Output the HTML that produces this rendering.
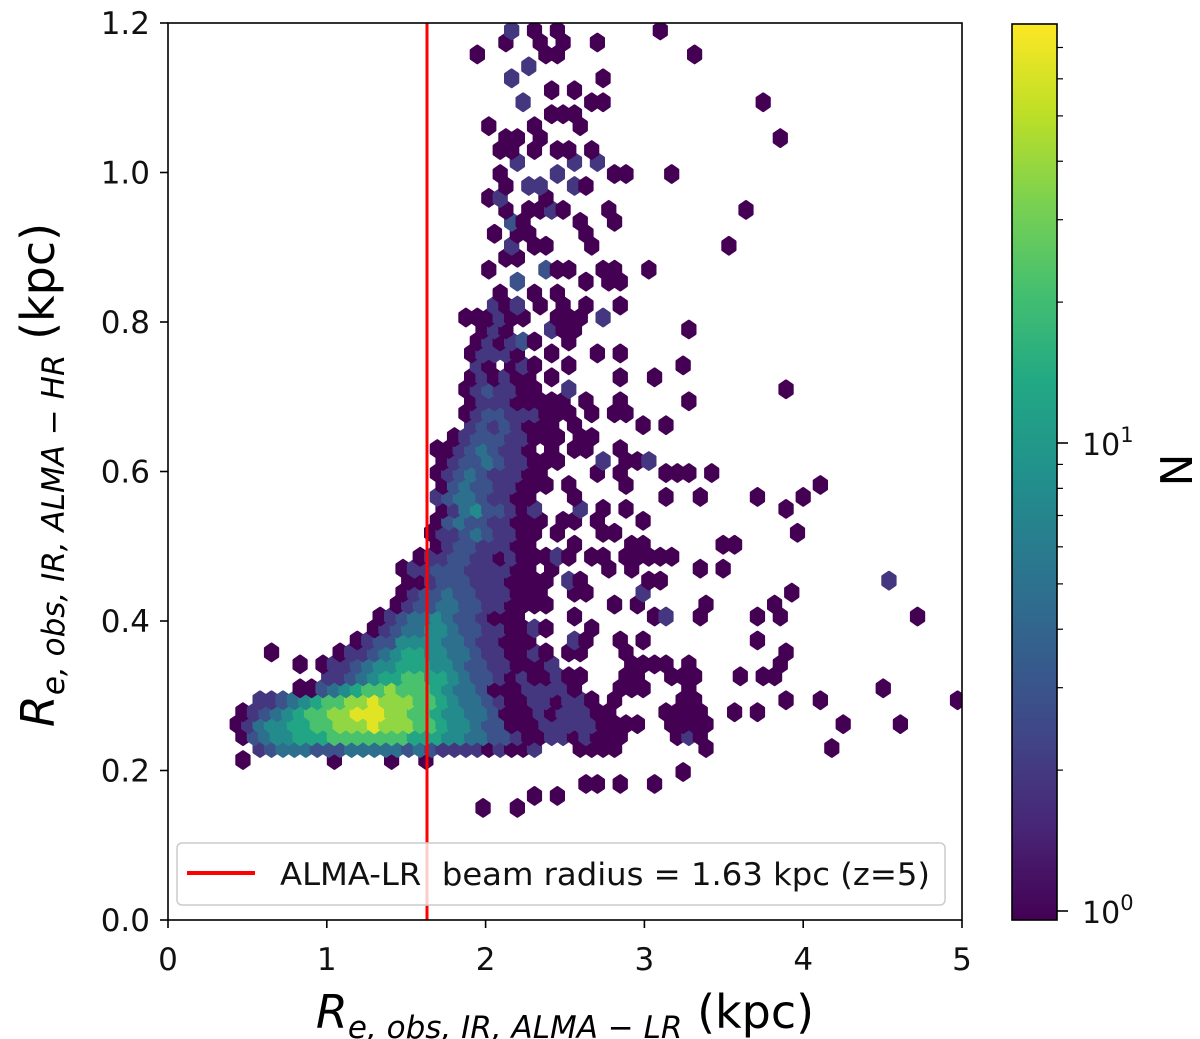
<!DOCTYPE html>
<html><head><meta charset="utf-8"><style>
html,body{margin:0;padding:0;background:#fff;}
svg{display:block;font-family:"DejaVu Sans","Liberation Sans",sans-serif;}
</style></head><body>
<svg id="chart" width="1200" height="1039" viewBox="0 0 1200 1039" xmlns="http://www.w3.org/2000/svg">
<defs>
<linearGradient id="vir" x1="0" y1="1" x2="0" y2="0">
<stop offset="0" stop-color="#440154"/><stop offset="0.1" stop-color="#482475"/><stop offset="0.2" stop-color="#414487"/><stop offset="0.3" stop-color="#355f8d"/><stop offset="0.4" stop-color="#2a788e"/><stop offset="0.5" stop-color="#21918c"/><stop offset="0.6" stop-color="#22a884"/><stop offset="0.7" stop-color="#44bf70"/><stop offset="0.8" stop-color="#7ad151"/><stop offset="0.9" stop-color="#bddf26"/><stop offset="1" stop-color="#fde725"/>
</linearGradient>
<clipPath id="plotclip"><rect x="168" y="23" width="794" height="897"/></clipPath>
</defs>
<g id="hexes" clip-path="url(#plotclip)"></g>
<line x1="427" y1="23" x2="427" y2="920" stroke="#ff0000" stroke-width="3"/>
<rect x="168" y="23" width="794" height="897" fill="none" stroke="#000" stroke-width="1.6"/>
<g id="xticks"></g>
<g id="yticks"></g>
<g>
<rect x="177" y="843" width="768" height="62" rx="5" fill="#fff" fill-opacity="0.8" stroke="#ccc" stroke-width="1.5"/>
<line x1="187" y1="873" x2="255" y2="873" stroke="#ff0000" stroke-width="4"/>
<text x="280" y="885" font-size="31" textLength="650" lengthAdjust="spacingAndGlyphs" fill="#111" xml:space="preserve">ALMA-LR  beam radius = 1.63 kpc (z=5)</text>
</g>
<text transform="translate(54,475) rotate(-90)" text-anchor="middle" font-size="46" fill="#000"><tspan font-style="italic">R</tspan><tspan font-style="italic" font-size="31" dy="10">e, obs, IR, ALMA − HR</tspan><tspan dy="-10"> (kpc)</tspan></text>
<text x="565" y="1028" text-anchor="middle" font-size="46" fill="#000"><tspan font-style="italic">R</tspan><tspan font-style="italic" font-size="31" dy="10">e, obs, IR, ALMA − LR</tspan><tspan dy="-10"> (kpc)</tspan></text>
<rect x="1012" y="24" width="45" height="896" fill="url(#vir)" stroke="#000" stroke-width="1.6"/>
<g id="cbticks"></g>
<text transform="translate(1192,470) rotate(-90)" text-anchor="middle" font-size="44" fill="#000">N</text>
</svg>
<script>
// hex grid rows, bottom (j=0) to top; segments "startColumn:levels", '.' = empty
const hexRows = [
"22:1..1",
"26:1.1",
"31:11.1..1",
"39:1",
"1:1 9:1 14:1 17:1",
"2:2344433344444343222212112 30:1111 41:1 52:1",
"1:1345566677777776665544332112212111 39:121",
"0:1 1:24556677888988877655433111222221111 38:1111 53:1 58:1",
"1:123456778899988776554431112122211 38:1111 44:1 46:1",
"2:223456778898887765443211221221 33:1 39:11 48:1 51:1 63:1",
"6:1134567787776544311122221 34:111 40:1 57:1",
"8:22345667766543321211211 34:11 38:111 44:1.11",
"6:1.122345566655433221112 35:1111 40:1 48:1",
"3:1 9:1223456655443221121 29:11 34:1 48:1",
"11:1233555544322111 30:21 34:1.1 46:1",
"12:1234455433221121 31:1",
"13:1234454332111 30:1 37:12 41:1 46:1 48:1 60:1",
"14:12334433221111 33:1.1 41:1 47:1",
"15:1233433222111 30:11 36:2 49:1",
"15:1123332221111 29:21 36:11 57:2",
"15:1 16:22333222211 28:1 33:1.1 41:1.1",
"16:1223322121112 29:1 31:11.1111 38:1",
"18:123322211 30:1 35:11 43:11",
"17:1223432211 28:1 32:11 49:1",
"18:1343322111 29:11 32:1 36:1",
"18:124533212 30:2 32:1 34:1 48:1",
"18:234432211 30:1 38:1 41:1 46:1 50:1",
"18:1343322111 29:1 34:1 51:1",
"18:1234322211 32:1.1 38:111 42:1",
"18:12334322111 32:2.112",
"18:112343221 28:1.11 34:1",
"19:1233322111 30:11",
"21:232321 27:11 30:1 36:1.1",
"20:1233222111 31:1 33:11",
"21:12221111 29:1 31:1 34:1 40:1",
"20:123221 26:1 29:2 48:1",
"21:121211.1 34:1 37:1",
"21:21.12 26:1 29:1 39:1",
"21:12221 28:1 32:1.1",
"21:12123 26:1 29:1",
"22:121 28:2 29:11 40:1",
"20:1112 24:11 28:11 30:1 32:2",
"23:212 27:1 29:1 31:1 34:1",
"23:1 26:1 28:1",
"25:3 31:1 33:11",
"22:1 27:3 28:11 32:11 36:1",
"24:11",
"24:2 26:1 27:1 31:1 43:1",
"23:1 25:11 31:1",
"24:31 30:1 33:1",
"24:1 26:112 29:1 33:1 45:1",
"22:12 27:1",
"24:1 26:22 30:2 31:1",
"23:1 28:2 33:11 38:1",
"25:2 30:2 32:2",
"23:11 26:1 28:11 31:1",
"24:11 27:1 48:1",
"22:1 26:1 30:1",
"28:111",
"25:2 31:11 46:1",
"28:1 30:1",
"24:2 32:1",
"26:2",
"21:1 27:11 40:1",
"24:1 27:1 29:1 32:1",
"24:2 26:1 28:1 37:1"
];
// counts represented by each level digit
const levelCounts = [0, 1, 2, 3, 5, 8, 13, 22, 38, 65];
const xTicks = [0, 1, 2, 3, 4, 5];
const yTicks = [0.0, 0.2, 0.4, 0.6, 0.8, 1.0, 1.2];
const cbMajor = [1, 10];
const cbMinor = [2, 3, 4, 5, 6, 7, 8, 9, 20, 30, 40, 50, 60, 70];
const gridX0 = 0.40, gridDX = 0.072, gridY0 = 0.150, gridDY = 0.016;

const NS = "http://www.w3.org/2000/svg";
const xS = v => 168 + 158.8 * v;
const yS = v => 920 - 747.5 * v;
const cbY = v => 443 - 468 * (Math.log10(v) - 1);
const cbMax = 78.5;
const stops = [[0,"#440154"],[0.1,"#482475"],[0.2,"#414487"],[0.3,"#355f8d"],[0.4,"#2a788e"],[0.5,"#21918c"],[0.6,"#22a884"],[0.7,"#44bf70"],[0.8,"#7ad151"],[0.9,"#bddf26"],[1,"#fde725"]];
function hex2(c){return [1,3,5].map(k=>parseInt(c.substr(k,2),16));}
function viridis(t){
  t=Math.max(0,Math.min(1,t));
  for(let k=1;k<stops.length;k++){
    if(t<=stops[k][0]){
      const a=stops[k-1],b=stops[k],f=(t-a[0])/(b[0]-a[0]);
      const ca=hex2(a[1]),cb=hex2(b[1]);
      return "rgb("+ca.map((v,i)=>Math.round(v+(cb[i]-v)*f)).join(",")+")";
    }
  }
  return stops[stops.length-1][1];
}
function mk(tag, attrs, parent){
  const e=document.createElementNS(NS,tag);
  for(const k in attrs) e.setAttribute(k,attrs[k]);
  parent.appendChild(e); return e;
}
const hg=document.getElementById("hexes");
const hw = 158.8*gridDX/2 + 0.4, hh = 747.5*gridDY*4/3/2 + 0.4;
hexRows.forEach((row, j) => {
  const yv = gridY0 + gridDY * j;
  const off = (j % 2) ? gridDX / 2 : 0;
  row.split(" ").forEach(seg => {
    if(!seg) return;
    const [st, lv] = seg.split(":");
    for(let k=0;k<lv.length;k++){
      const ch=lv[k]; if(ch===".") continue;
      const cnt = levelCounts[+ch];
      const xv = gridX0 + off + gridDX * (+st + k);
      const cx = xS(xv), cy = yS(yv);
      const col = viridis(Math.log10(cnt)/Math.log10(cbMax));
      const pts=[[0,-hh],[hw,-hh/2],[hw,hh/2],[0,hh],[-hw,hh/2],[-hw,-hh/2]].map(p=>(cx+p[0]).toFixed(1)+","+(cy+p[1]).toFixed(1)).join(" ");
      const h = mk("polygon",{points:pts,fill:col,stroke:col,"stroke-width":3,"stroke-linejoin":"round"},hg);
      
      
    }
  });
});
const xg=document.getElementById("xticks");
xTicks.forEach(v=>{
  const x=xS(v);
  const l=mk("line",{x1:x,y1:920,x2:x,y2:928,stroke:"#000","stroke-width":1.6},xg);
  
  
  const t=mk("text",{x:x,y:970,"text-anchor":"middle","font-size":31,fill:"#111"},xg);
  
  
  t.textContent=String(v);
});
const yg=document.getElementById("yticks");
yTicks.forEach(v=>{
  const y=yS(v);
  const l=mk("line",{x1:160,y1:y,x2:168,y2:y,stroke:"#000","stroke-width":1.6},yg);
  
  
  const t=mk("text",{x:150,y:y+11,"text-anchor":"end","font-size":31,fill:"#111"},yg);
  
  
  t.textContent=v.toFixed(1);
});
const cg=document.getElementById("cbticks");
cbMinor.forEach(v=>{
  const y=cbY(v);
  const l=mk("line",{x1:1057,y1:y,x2:1063,y2:y,stroke:"#000","stroke-width":1.2},cg);
  
  
});
cbMajor.forEach(v=>{
  const y=Math.min(cbY(v),918);
  const l=mk("line",{x1:1057,y1:y,x2:1068,y2:y,stroke:"#000","stroke-width":1.6},cg);
  
  
  const t=mk("text",{x:1082,y:y+12,"font-size":30,fill:"#111"},cg);
  
  
  t.textContent="10";
  const s=mk("tspan",{dy:-13,"font-size":21},t);
  s.textContent=String(Math.round(Math.log10(v)));
});
</script>
</body></html>
